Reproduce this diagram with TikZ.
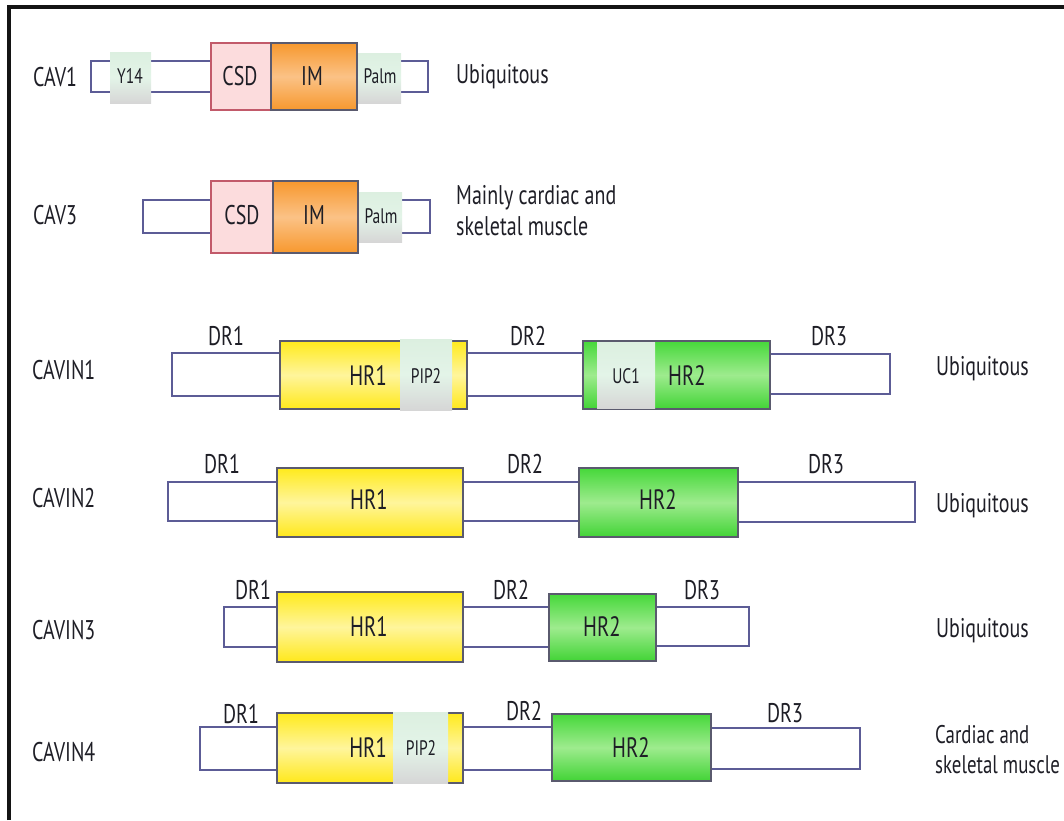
\documentclass[tikz,border=0pt]{standalone}
\usepackage{fontspec}
\setmainfont{PT Sans}[FakeStretch=0.74]
\usetikzlibrary{fit}

\definecolor{ink}{HTML}{1E1E26}
\definecolor{barline}{HTML}{5C5C96}
\definecolor{domedge}{HTML}{5A5A6E}
\definecolor{yelTop}{HTML}{FFEA1C}
\definecolor{yelMid}{HTML}{FFF59C}
\definecolor{yelBot}{HTML}{FFE81A}
\definecolor{grnTop}{HTML}{46D83A}
\definecolor{grnMid}{HTML}{9EEB8E}
\definecolor{grnBot}{HTML}{42D436}
\definecolor{orgTop}{HTML}{F7982E}
\definecolor{orgMid}{HTML}{FBC286}
\definecolor{orgBot}{HTML}{F7982E}
\definecolor{csdFill}{HTML}{FCDCDD}
\definecolor{csdEdge}{HTML}{C25A6A}
\definecolor{tagTop}{HTML}{DCEFE0}
\definecolor{tagMid}{HTML}{E3F4E8}
\definecolor{tagBot}{HTML}{D6D6D6}

\tikzset{
  bar/.style={draw=barline, line width=1.7pt, fill=white, inner sep=0pt},
  dom/.style={inner sep=0pt, line width=1.3pt},
  hrone/.style={dom, draw=domedge, top color=yelTop, bottom color=yelBot, middle color=yelMid},
  hrtwo/.style={dom, draw=domedge, top color=grnTop, bottom color=grnBot, middle color=grnMid},
  imbox/.style={dom, draw=domedge, top color=orgTop, bottom color=orgBot, middle color=orgMid},
  csdbox/.style={dom, draw=csdEdge, fill=csdFill},
  tagbox/.style={inner sep=0pt, top color=tagTop, bottom color=tagBot, middle color=tagMid},
  txt/.style={inner sep=0pt, text=ink, font=\fontsize{27}{31}\selectfont},
  drtxt/.style={inner sep=0pt, text=ink, font=\fontsize{27}{31}\selectfont},
  hrtxt/.style={inner sep=0pt, text=ink, font=\fontsize{28}{32}\selectfont},
  tagtxt/.style={inner sep=0pt, text=ink, font=\fontsize{21}{24}\selectfont},
}

\begin{document}
\begin{tikzpicture}[x=1pt, y=-1pt]
\useasboundingbox (0,0) rectangle (1064,820);

% frame
\coordinate (fbl) at (9,820);
\coordinate (ftl) at (9,7);
\coordinate (ftr) at (1064,7);
\draw[line width=3.5pt, black!92] (fbl) -- (ftl) -- (ftr);

% ---------------- CAV1 ----------------
\node[bar, fit={(91,61) (428,92)}] (cav1bar) {};
\node[tagbox, fit={(110,52) (151,103)}] (cav1y14) {};
\node[csdbox, fit={(211,43) (271,110)}] (cav1csd) {};
\node[imbox, fit={(271,43) (357,110)}] (cav1im) {};
\node[tagbox, fit={(358,53) (401,103)}] (cav1palm) {};
\node[tagtxt] (cav1y14t) at (130,76) {Y14};
\node[txt] (cav1csdt) at (240,76) {CSD};
\node[txt] (cav1imt) at (312,76) {IM};
\node[tagtxt] (cav1palmt) at (380,76) {Palm};
\node[txt, anchor=west] (cav1name) at (33,77) {CAV1};
\node[txt, anchor=west] (cav1tis) at (456,77) {Ubiquitous};

% ---------------- CAV3 ----------------
\node[bar, fit={(143,200) (430,233)}] (cav3bar) {};
\node[csdbox, fit={(211,181) (273,253)}] (cav3csd) {};
\node[imbox, fit={(273,181) (358,253)}] (cav3im) {};
\node[tagbox, fit={(359,192) (402,242)}] (cav3palm) {};
\node[txt] (cav3csdt) at (242,215) {CSD};
\node[txt] (cav3imt) at (314,215) {IM};
\node[tagtxt] (cav3palmt) at (381,216) {Palm};
\node[txt, anchor=west] (cav3name) at (33,215) {CAV3};
\node[txt, anchor=west, align=left] (cav3tis) at (456,211) {Mainly cardiac and\\skeletal muscle};

% ---------------- CAVIN1 ----------------
\node[bar, fit={(172,353) (280,396)}] (c1dr1) {};
\node[bar, fit={(467,353) (583,396)}] (c1dr2) {};
\node[bar, fit={(770,354) (890,394)}] (c1dr3) {};
\node[hrone, fit={(280,341) (467,409)}] (c1hr1) {};
\node[tagbox, fit={(400,339) (452,410)}] (c1pip) {};
\node[tagtxt] (c1piptxt) at (426,376) {PIP2};
\node[hrtxt, anchor=east] (c1hr1txt) at (387,376) {HR1};
\node[hrtwo, fit={(583,341) (770,409)}] (c1hr2) {};
\node[tagbox, fit={(597,342) (655,408)}] (c1uc) {};
\node[tagtxt] (c1uctxt) at (626,376) {UC1};
\node[hrtxt] (c1hr2txt) at (687,376) {HR2};
\node[drtxt] (c1dr1txt) at (226,336) {DR1};
\node[drtxt] (c1dr2txt) at (528,336) {DR2};
\node[drtxt] (c1dr3txt) at (829,336) {DR3};
\node[txt, anchor=west] (c1name) at (32,370) {CAVIN1};
\node[txt, anchor=west] (c1tis) at (936,369) {Ubiquitous};

% ---------------- CAVIN2 ----------------
\node[bar, fit={(168,482) (277,521)}] (c2dr1) {};
\node[bar, fit={(463,482) (579,521)}] (c2dr2) {};
\node[bar, fit={(738,482) (915,522)}] (c2dr3) {};
\node[hrone, fit={(277,468) (463,537)}] (c2hr1) {};
\node[hrtwo, fit={(579,468) (738,537)}] (c2hr2) {};
\node[hrtxt] (c2hr1txt) at (369,500) {HR1};
\node[hrtxt] (c2hr2txt) at (658,500) {HR2};
\node[drtxt] (c2dr1txt) at (222,464) {DR1};
\node[drtxt] (c2dr2txt) at (525,464) {DR2};
\node[drtxt] (c2dr3txt) at (826,464) {DR3};
\node[txt, anchor=west] (c2name) at (32,498) {CAVIN2};
\node[txt, anchor=west] (c2tis) at (936,506) {Ubiquitous};

% ---------------- CAVIN3 ----------------
\node[bar, fit={(224,607) (277,647)}] (c3dr1) {};
\node[bar, fit={(463,607) (549,647)}] (c3dr2) {};
\node[bar, fit={(656,607) (749,646)}] (c3dr3) {};
\node[hrone, fit={(277,592) (463,662)}] (c3hr1) {};
\node[hrtwo, fit={(549,594) (656,661)}] (c3hr2) {};
\node[hrtxt] (c3hr1txt) at (369,627) {HR1};
\node[hrtxt] (c3hr2txt) at (602,627) {HR2};
\node[drtxt] (c3dr1txt) at (253,590) {DR1};
\node[drtxt] (c3dr2txt) at (511,590) {DR2};
\node[drtxt] (c3dr3txt) at (702,590) {DR3};
\node[txt, anchor=west] (c3name) at (32,630) {CAVIN3};
\node[txt, anchor=west] (c3tis) at (936,631) {Ubiquitous};

% ---------------- CAVIN4 ----------------
\node[bar, fit={(200,727) (277,770)}] (c4dr1) {};
\node[bar, fit={(463,727) (552,770)}] (c4dr2) {};
\node[bar, fit={(711,728) (860,769)}] (c4dr3) {};
\node[hrone, fit={(277,713) (463,783)}] (c4hr1) {};
\node[tagbox, fit={(393,712) (448,783)}] (c4pip) {};
\node[tagtxt] (c4piptxt) at (421,748) {PIP2};
\node[hrtxt, anchor=east] (c4hr1txt) at (387,748) {HR1};
\node[hrtwo, fit={(552,714) (711,781)}] (c4hr2) {};
\node[hrtxt] (c4hr2txt) at (631,748) {HR2};
\node[drtxt] (c4dr1txt) at (241,714) {DR1};
\node[drtxt] (c4dr2txt) at (524,711) {DR2};
\node[drtxt] (c4dr3txt) at (785,713) {DR3};
\node[txt, anchor=west] (c4name) at (32,752) {CAVIN4};
\node[txt, anchor=west, align=left, font=\fontsize{25.5}{30}\selectfont] (c4tis) at (935,750) {Cardiac and\\skeletal muscle};
\end{tikzpicture}
\end{document}
